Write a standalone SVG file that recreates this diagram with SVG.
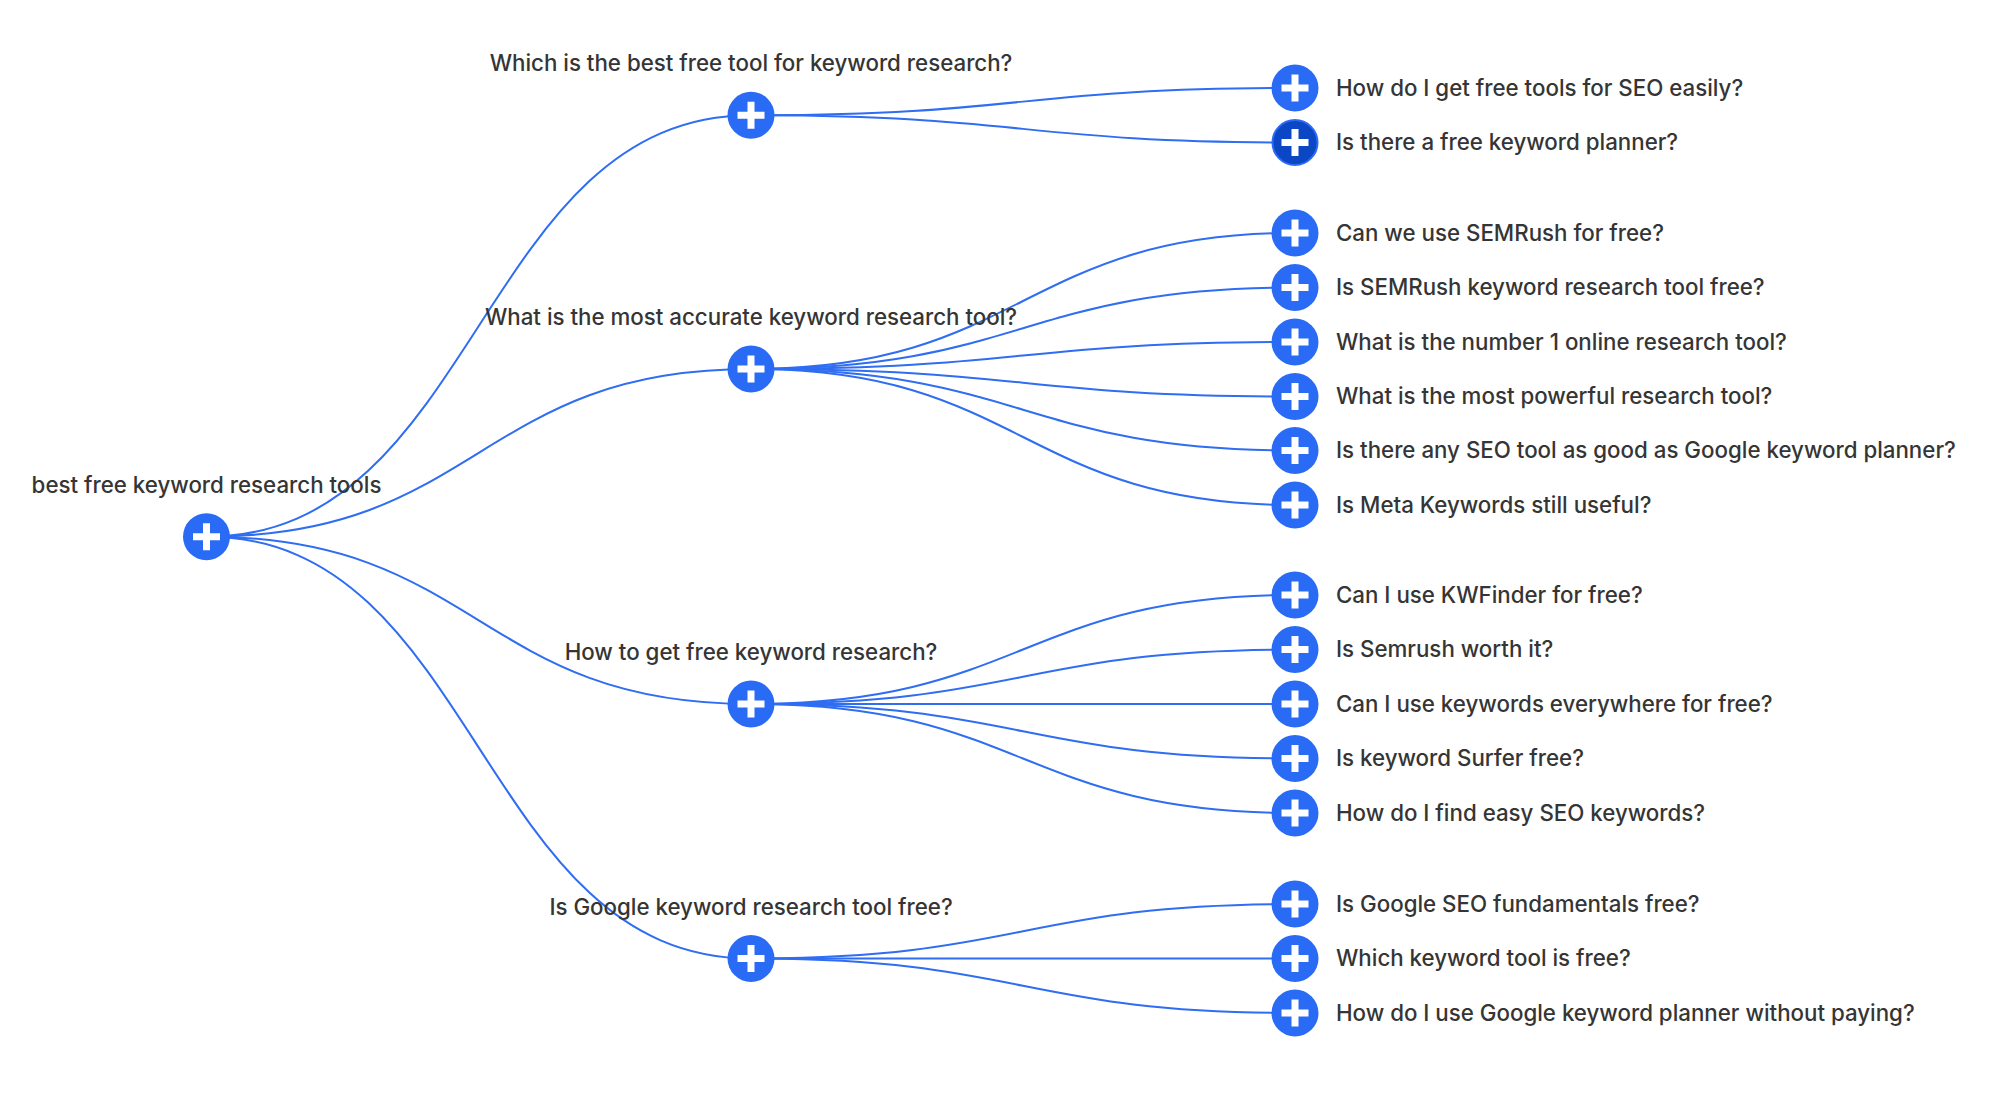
<svg xmlns="http://www.w3.org/2000/svg" width="1999" height="1102" viewBox="0 0 1999 1102">
<defs>
<style>
.link{fill:none;stroke:#2f6df2;stroke-width:2}
.node circle{fill:#2a6bf5}
.node.dark circle{fill:#0b47c4;stroke:#2a6bf5;stroke-width:2}
.plus{stroke:#fff;stroke-width:7;fill:none}
.lbl{font-family:Inter,"Liberation Sans",sans-serif;font-size:22.3px;font-weight:500;fill:#353535}
.mid{text-anchor:middle}
</style>
<g id="plus"><path class="plus" d="M-13.5,0H13.5M0,-13.5V13.5"/></g>
</defs>
<rect width="1999" height="1102" fill="#fff"/>
<g id="connectors">
<path class="link" d="M206.5,536.7C478.75,536.7 478.75,115.25 751,115.25"/>
<path class="link" d="M206.5,536.7C478.75,536.7 478.75,369 751,369"/>
<path class="link" d="M206.5,536.7C478.75,536.7 478.75,704 751,704"/>
<path class="link" d="M206.5,536.7C478.75,536.7 478.75,958.5 751,958.5"/>
<path class="link" d="M751,115.25C1023,115.25 1023,88 1295,88"/>
<path class="link" d="M751,115.25C1023,115.25 1023,142.5 1295,142.5"/>
<path class="link" d="M751,369C1023,369 1023,233 1295,233"/>
<path class="link" d="M751,369C1023,369 1023,287.5 1295,287.5"/>
<path class="link" d="M751,369C1023,369 1023,342 1295,342"/>
<path class="link" d="M751,369C1023,369 1023,396.5 1295,396.5"/>
<path class="link" d="M751,369C1023,369 1023,450.5 1295,450.5"/>
<path class="link" d="M751,369C1023,369 1023,505 1295,505"/>
<path class="link" d="M751,704C1023,704 1023,595 1295,595"/>
<path class="link" d="M751,704C1023,704 1023,649.5 1295,649.5"/>
<path class="link" d="M751,704C1023,704 1023,704 1295,704"/>
<path class="link" d="M751,704C1023,704 1023,758.5 1295,758.5"/>
<path class="link" d="M751,704C1023,704 1023,813 1295,813"/>
<path class="link" d="M751,958.5C1023,958.5 1023,904 1295,904"/>
<path class="link" d="M751,958.5C1023,958.5 1023,958.5 1295,958.5"/>
<path class="link" d="M751,958.5C1023,958.5 1023,1013 1295,1013"/>
</g>
<g id="n-root" class="node" transform="translate(206.5,536.7)"><circle r="23.5"/><use href="#plus"/><text class="lbl mid" y="-44">best free keyword research tools</text></g>
<g id="n-1" class="node" transform="translate(751,115.25)"><circle r="23.5"/><use href="#plus"/><text class="lbl mid" y="-44">Which is the best free tool for keyword research?</text></g>
<g id="n-2" class="node" transform="translate(751,369)"><circle r="23.5"/><use href="#plus"/><text class="lbl mid" y="-44">What is the most accurate keyword research tool?</text></g>
<g id="n-3" class="node" transform="translate(751,704)"><circle r="23.5"/><use href="#plus"/><text class="lbl mid" y="-44">How to get free keyword research?</text></g>
<g id="n-4" class="node" transform="translate(751,958.5)"><circle r="23.5"/><use href="#plus"/><text class="lbl mid" y="-44">Is Google keyword research tool free?</text></g>
<g id="n-1-1" class="node" transform="translate(1295,88)"><circle r="23.5"/><use href="#plus"/><text class="lbl" x="41" y="7.5">How do I get free tools for SEO easily?</text></g>
<g id="n-1-2" class="node dark" transform="translate(1295,142.5)"><circle r="22.5"/><use href="#plus"/><text class="lbl" x="41" y="7.5">Is there a free keyword planner?</text></g>
<g id="n-2-1" class="node" transform="translate(1295,233)"><circle r="23.5"/><use href="#plus"/><text class="lbl" x="41" y="7.5">Can we use SEMRush for free?</text></g>
<g id="n-2-2" class="node" transform="translate(1295,287.5)"><circle r="23.5"/><use href="#plus"/><text class="lbl" x="41" y="7.5">Is SEMRush keyword research tool free?</text></g>
<g id="n-2-3" class="node" transform="translate(1295,342)"><circle r="23.5"/><use href="#plus"/><text class="lbl" x="41" y="7.5">What is the number 1 online research tool?</text></g>
<g id="n-2-4" class="node" transform="translate(1295,396.5)"><circle r="23.5"/><use href="#plus"/><text class="lbl" x="41" y="7.5">What is the most powerful research tool?</text></g>
<g id="n-2-5" class="node" transform="translate(1295,450.5)"><circle r="23.5"/><use href="#plus"/><text class="lbl" x="41" y="7.5">Is there any SEO tool as good as Google keyword planner?</text></g>
<g id="n-2-6" class="node" transform="translate(1295,505)"><circle r="23.5"/><use href="#plus"/><text class="lbl" x="41" y="7.5">Is Meta Keywords still useful?</text></g>
<g id="n-3-1" class="node" transform="translate(1295,595)"><circle r="23.5"/><use href="#plus"/><text class="lbl" x="41" y="7.5">Can I use KWFinder for free?</text></g>
<g id="n-3-2" class="node" transform="translate(1295,649.5)"><circle r="23.5"/><use href="#plus"/><text class="lbl" x="41" y="7.5">Is Semrush worth it?</text></g>
<g id="n-3-3" class="node" transform="translate(1295,704)"><circle r="23.5"/><use href="#plus"/><text class="lbl" x="41" y="7.5">Can I use keywords everywhere for free?</text></g>
<g id="n-3-4" class="node" transform="translate(1295,758.5)"><circle r="23.5"/><use href="#plus"/><text class="lbl" x="41" y="7.5">Is keyword Surfer free?</text></g>
<g id="n-3-5" class="node" transform="translate(1295,813)"><circle r="23.5"/><use href="#plus"/><text class="lbl" x="41" y="7.5">How do I find easy SEO keywords?</text></g>
<g id="n-4-1" class="node" transform="translate(1295,904)"><circle r="23.5"/><use href="#plus"/><text class="lbl" x="41" y="7.5">Is Google SEO fundamentals free?</text></g>
<g id="n-4-2" class="node" transform="translate(1295,958.5)"><circle r="23.5"/><use href="#plus"/><text class="lbl" x="41" y="7.5">Which keyword tool is free?</text></g>
<g id="n-4-3" class="node" transform="translate(1295,1013)"><circle r="23.5"/><use href="#plus"/><text class="lbl" x="41" y="7.5">How do I use Google keyword planner without paying?</text></g>
</svg>
